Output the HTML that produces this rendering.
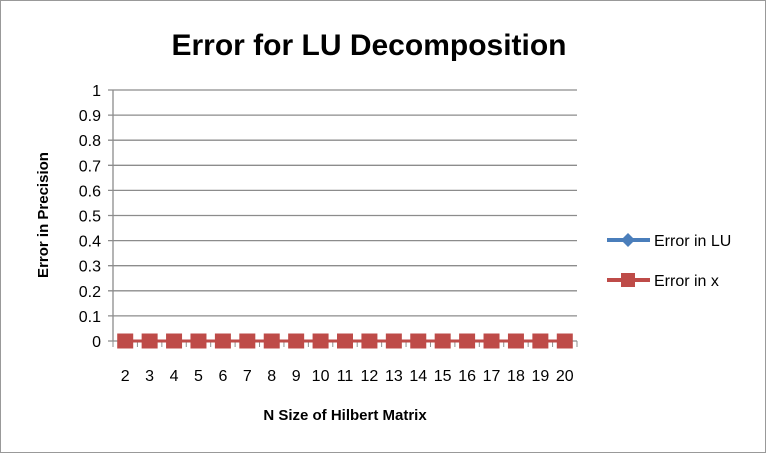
<!DOCTYPE html>
<html><head><meta charset="utf-8"><style>
body{margin:0;background:#fff}
svg{display:block;font-family:"Liberation Sans",sans-serif}
</style></head><body>
<svg width="766" height="453">
<rect x="0.5" y="0.5" width="765" height="452" fill="#fff" stroke="#999"/>
<text x="369" y="55" font-size="30" font-weight="bold" text-anchor="middle">Error for LU Decomposition</text>
<g id="grid"></g><g id="series"></g>
<text transform="translate(48,215) rotate(-90)" font-size="15" font-weight="bold" text-anchor="middle">Error in Precision</text>
<text x="345" y="420" font-size="15" font-weight="bold" text-anchor="middle">N Size of Hilbert Matrix</text>
<g>
<line x1="607" y1="240" x2="650" y2="240" stroke="#4a7ebb" stroke-width="4"/>
<polygon points="628,233 635,240 628,247 621,240" fill="#4a7ebb"/>
<text x="654" y="246" font-size="16">Error in LU</text></g>
<g>
<line x1="607" y1="280" x2="650" y2="280" stroke="#be4b48" stroke-width="4"/>
<rect x="621" y="273" width="14" height="14" fill="#be4b48"/>
<text x="654" y="286" font-size="16">Error in x</text></g>
</svg>
<script>
const categories=[2,3,4,5,6,7,8,9,10,11,12,13,14,15,16,17,18,19,20];
const errLU=[0,0,0,0,0,0,0,0,0,0,0,0,0,0,0,0,0,0,0];
const errX=[0,0,0,0,0,0,0,0,0,0,0,0,0,0,0,0,0,0,0];
const yTicks=[0,0.1,0.2,0.3,0.4,0.5,0.6,0.7,0.8,0.9,1];
const NS="http://www.w3.org/2000/svg";
const L=113,R=577,T=90,B=341;
const bw=(R-L)/categories.length;
const xs=i=>L+bw*(i+0.5);
const ys=v=>B-(B-T)*v;
function mk(t,a,p){const e=document.createElementNS(NS,t);for(const k in a)e.setAttribute(k,a[k]);p.appendChild(e);return e;}
const g=document.getElementById('grid'),s=document.getElementById('series');
yTicks.forEach(v=>{
 const y=ys(v);
 const ln=mk('line',{x1:L-5,x2:R,y1:y,y2:y,stroke:'#8c8c8c','stroke-width':1.3},g);
 
 
 const t=mk('text',{x:L-12,y:y+6,'font-size':16,'text-anchor':'end'},g);t.textContent=String(v);
 
 
});
const ax=mk('line',{x1:L,x2:L,y1:T,y2:B,stroke:'#8c8c8c','stroke-width':1.3},g);


for(let i=0;i<=categories.length;i++){mk('line',{x1:L+bw*i,x2:L+bw*i,y1:B,y2:B+6,stroke:'#8c8c8c'},g);}
categories.forEach((c,i)=>{const t=mk('text',{x:xs(i),y:B+40,'font-size':16,'text-anchor':'middle'},g);t.textContent=c;
 
 });
function line(vals,col){
 const p=mk('polyline',{points:vals.map((v,i)=>xs(i)+','+ys(v)).join(' '),fill:'none',stroke:col,'stroke-width':3},s);
 
 
}
line(errLU,'#4a7ebb');
errLU.forEach((v,i)=>{const d=mk('polygon',{points:`${xs(i)},${ys(v)-7} ${xs(i)+7},${ys(v)} ${xs(i)},${ys(v)+7} ${xs(i)-7},${ys(v)}`,fill:'#4a7ebb'},s);
 
 });
line(errX,'#be4b48');
errX.forEach((v,i)=>{const r=mk('rect',{x:xs(i)-8,y:ys(v)-7.5,width:16,height:15,fill:'#be4b48'},s);
 
 });
</script>
</body></html>
